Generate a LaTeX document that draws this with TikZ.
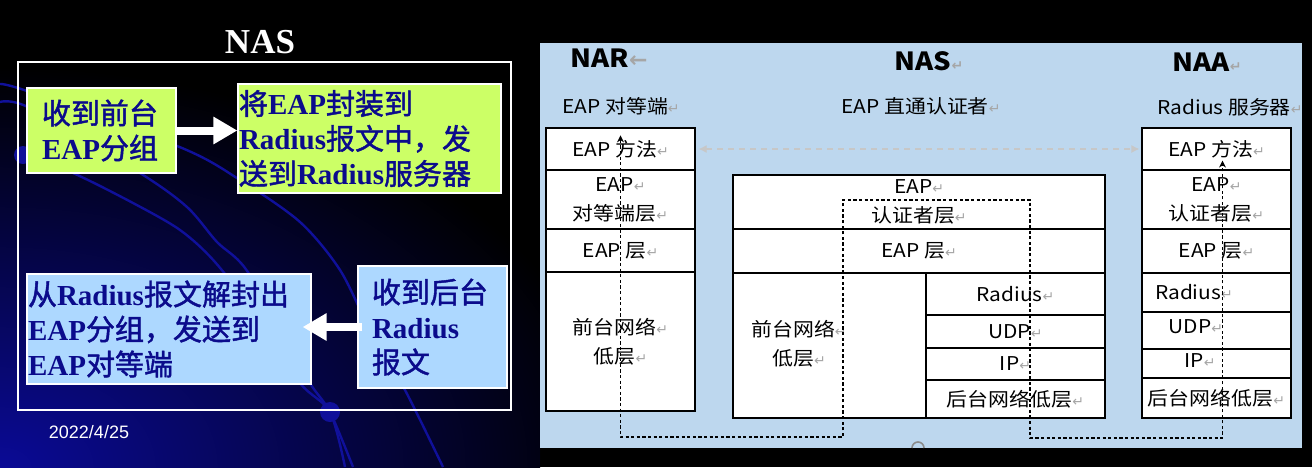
\documentclass[tikz,border=0pt]{standalone}
\usepackage{fontspec}
\setmainfont{Liberation Serif}
\setsansfont{Liberation Sans}
\newfontfamily\cjk{Noto Sans CJK SC}[FakeBold=1.5]
\newfontfamily\cjkw{Noto Sans CJK SC}[FakeStretch=1.1]
\newfontfamily\symfont{DejaVu Sans}
\usetikzlibrary{arrows.meta,fit}
\definecolor{slidenavy}{HTML}{0B0B8C}
\definecolor{limegreen}{HTML}{CCFF66}
\definecolor{skyblue}{HTML}{ADD8FF}
\definecolor{panelblue}{HTML}{BDD7EE}
\definecolor{curveblue}{HTML}{10109A}
\definecolor{glowblue}{HTML}{0A0A96}

\newcommand{\zh}[1]{{\cjk\mdseries #1}}
\newcommand{\ret}{{\symfont\color{black!35}\fontsize{7}{7}\selectfont ↵}}

\begin{document}
\begin{tikzpicture}[x=0.5pt, y=-0.5pt,
  slidebox/.style={inner ysep=0pt, align=left, text=slidenavy, draw=white,
             line width=0.6pt, font=\bfseries\fontsize{14.5}{17.5}\selectfont},
  greenbox/.style={slidebox, fill=limegreen},
  bluebox/.style={slidebox, fill=skyblue},
  fatarrow/.style={white, line width=4pt, -{Triangle[length=12pt,width=13pt]}},
  cell/.style={draw=black, line width=0.6pt, fill=white, inner sep=0pt,
             align=center, font=\cjkw\fontsize{9.5}{14.5}\selectfont},
  narcol/.style={cell, minimum width=74.5pt},
  nascol/.style={cell, minimum width=186pt},
  naacol/.style={cell, minimum width=74.5pt},
  txt/.style={align=center, font=\cjkw\fontsize{9.5}{14.5}\selectfont},
  head/.style={font=\cjkw\bfseries\fontsize{12.5}{14}\selectfont},
  peer/.style={draw=black!22, line width=0.6pt, dash pattern=on 3pt off 2.5pt,
             {Latex[length=4pt,width=4pt]}-{Latex[length=4pt,width=4pt]}},
  flow/.style={draw=black, line width=0.55pt, dash pattern=on 1.6pt off 1.2pt,
             {Stealth[length=3.5pt,width=3.5pt]}-{Stealth[length=3.5pt,width=3.5pt]}},
]
\useasboundingbox (0,0) rectangle (1312,467);

% slide background
\fill[black] (0,0) rectangle (1312,467);
\begin{scope}
  \clip (0,0) rectangle (540,467);
  \shade[inner color=glowblue, outer color=black] (0,467) ellipse [x radius=620, y radius=400];
  \begin{scope}[curveblue, line width=1.2pt]
    \draw plot[smooth] coordinates {(0,84) (30,92) (182,148) (240,180) (300,222)
      (340,270) (370,330) (405,390) (443,467)};
    \draw plot[smooth] coordinates {(0,102) (30,108) (140,173) (187,207) (217,242)
      (245,268) (290,340) (310,383) (330,412) (353,467)};
    \draw plot[smooth] coordinates {(23,155) (73,173) (133,203) (180,230) (215,262)
      (260,320) (300,383) (330,412) (345,467)};
    \fill (23,155) circle (9);
    \fill (330,412) circle (10);
  \end{scope}
\end{scope}

% left: what the NAS does
\node[text=white, font=\bfseries\fontsize{17.5}{20}\selectfont] (title) at (260,42) {NAS};
\node[draw=white, line width=0.6pt, inner sep=0pt, fit={(18,62) (511,410)}] (frame) {};

\node[greenbox, minimum width=74.5pt, minimum height=42.5pt, inner xsep=7.5pt,
      text width=59.5pt] (rxfront) at (101.5,130.5) {\zh{收到前台}\\EAP\zh{分组}};
\node[greenbox, minimum width=131.5pt, minimum height=54.5pt, inner xsep=0.5pt,
      text width=130.5pt] (encap) at (369.5,138.5)
      {\zh{将}EAP\zh{封装到}\\Radius\zh{报文中，发}\\\zh{送到}Radius\zh{服务器}};
\node[bluebox, minimum width=142pt, minimum height=55pt, inner xsep=0.5pt,
      text width=141pt] (decap) at (169,329)
      {\zh{从}Radius\zh{报文解封出}\\EAP\zh{分组，发送到}\\EAP\zh{对等端}};
\node[bluebox, minimum width=74.5pt, minimum height=61pt, inner xsep=7pt,
      text width=60.5pt] (rxback) at (432.5,327) {\zh{收到后台}\\Radius\\\zh{报文}};

\draw[fatarrow] (rxfront.east) -- (rxfront.east -| encap.west);
\draw[fatarrow, shorten <=-2.5pt, shorten >=-4.5pt] (rxback.west) -- (rxback.west -| decap.east);

\node[text=white, font=\sffamily\fontsize{9}{10}\selectfont] (date) at (89,432) {2022/4/25};

% right: protocol stacks
\fill[panelblue] (540,43) rectangle (1302,448);
\draw[black!45, line width=0.8pt] (912,448) arc (180:360:6);

\node[head] (narT) at (609,58) {NAR{\symfont\color{black!35}\fontsize{11}{11}\selectfont ←}};
\node[head] (nasT) at (929,61) {NAS\ret};
\node[head] (naaT) at (1207,62) {NAA\ret};
\node[txt] (narS) at (621,106) {EAP 对等端\ret};
\node[txt] (nasS) at (921,106) {EAP 直通认证者\ret};
\node[txt] (naaS) at (1230,107) {Radius 服务器\ret};

\node[narcol, minimum height=21pt]   (narM) at (620.5,149)   {EAP 方法\ret};
\node[narcol, minimum height=29.5pt] (narP) at (620.5,199.5) {EAP\ret\\对等端层\ret};
\node[narcol, minimum height=21.5pt] (narE) at (620.5,250.5) {EAP 层\ret};
\node[narcol, minimum height=69.5pt] (narL) at (620.5,341.5) {前台网络\ret\\低层\ret};

\node[nascol, minimum height=27pt] (nasA) at (919,202) {EAP\ret\\认证者层\ret};
\node[nascol, minimum height=22pt] (nasE) at (919,251) {EAP 层\ret};
\node[cell, minimum width=96.5pt, minimum height=72.5pt] (nasL) at (829.5,345.5) {};
\node[txt] (nasLt) at (799,344) {前台网络\ret\\低层\ret};
\node[cell, minimum width=89.5pt, minimum height=21pt]   (nasR) at (1015.5,294)   {Radius\ret};
\node[cell, minimum width=89.5pt, minimum height=16.5pt] (nasU) at (1015.5,331.5) {UDP\ret};
\node[cell, minimum width=89.5pt, minimum height=16pt]   (nasI) at (1015.5,364)   {IP\ret};
\node[cell, minimum width=89.5pt, minimum height=19pt]   (nasB) at (1015.5,399)   {后台网络低层\ret};

\node[naacol, minimum height=21pt]   (naaM) at (1216.5,149)   {EAP 方法\ret};
\node[naacol, minimum height=29.5pt] (naaA) at (1216.5,199.5) {EAP\ret\\认证者层\ret};
\node[naacol, minimum height=22pt]   (naaE) at (1216.5,251)   {EAP 层\ret};
\node[naacol, minimum height=19.5pt] (naaR) at (1216.5,292.5) {};
\node[naacol, minimum height=18.5pt] (naaU) at (1216.5,330.5) {};
\node[naacol, minimum height=14.5pt] (naaI) at (1216.5,363.5) {};
\node[naacol, minimum height=20pt]   (naaB) at (1216.5,398)   {后台网络低层\ret};
\node[txt] (naaRt) at (1194,292) {Radius\ret};
\node[txt] (naaUt) at (1196,327) {UDP\ret};
\node[txt] (naaIt) at (1200,361) {IP\ret};

\draw[peer, shorten <=1.5pt, shorten >=1pt] (narM.east) -- (naaM.west);

\coordinate (f1) at (620.5,437);
\coordinate (f2) at (843,200);
\coordinate (f3) at (1030,438);
\draw[flow] ([yshift=-4pt]narM.north) -- (f1) -| (f2) -| (f3)
  -| ([xshift=3pt,yshift=5pt]naaM.south);
\end{tikzpicture}
\end{document}
